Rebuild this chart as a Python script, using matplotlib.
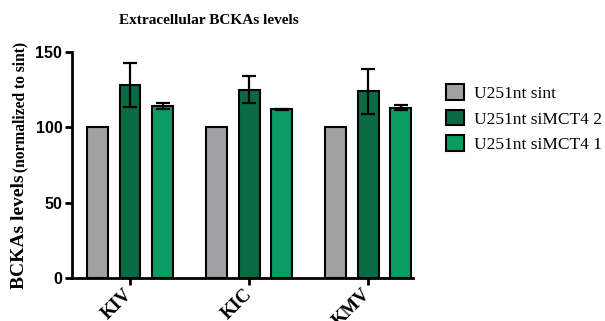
import matplotlib.pyplot as plt
import numpy as np

# data
categories = ["KIV", "KIC", "KMV"]
series = ["U251nt sint", "U251nt siMCT4 2", "U251nt siMCT4 1"]
sint = [100, 100, 100]
simct4_2 = [128, 125, 124]
simct4_1 = [114, 112, 113]
err_sint = [0, 0, 0]
err_simct4_2 = [14.5, 8.8, 15]
err_simct4_1 = [2, 0.4, 1.5]

colors = ["#a1a0a5", "#086b44", "#0c9a63"]
values = [sint, simct4_2, simct4_1]
errors = [err_sint, err_simct4_2, err_simct4_1]

fig = plt.figure(figsize=(6.05, 3.21), dpi=100)
ax = fig.add_axes([0.119, 0.134, 0.564, 0.704])

x = np.arange(len(categories))
width = 0.176
offset = 0.273
for i, (vals, errs, col, name) in enumerate(zip(values, errors, colors, series)):
    pos = x + (i - 1) * offset
    ax.bar(pos, vals, width, color=col, edgecolor="black", linewidth=1.5, label=name, zorder=2)
    e = [v if v > 0 else np.nan for v in errs]
    ax.errorbar(pos, vals, yerr=e, fmt="none", ecolor="black", elinewidth=1.6,
                capsize=5, capthick=1.6, zorder=3)

ax.set_xlim(-0.487, 2.378)
ax.set_ylim(0, 150)
ax.set_yticks([0, 50, 100, 150])
ax.set_xticks(x)
ax.set_xticklabels(categories, rotation=45, ha="right", va="center", rotation_mode="anchor",
                   family="Liberation Serif", fontweight="bold", fontsize=13.5)
for lab in ax.get_yticklabels():
    lab.set_family("Liberation Sans")
    lab.set_fontweight("bold")
    lab.set_fontsize(11.5)

for side in ["top", "right"]:
    ax.spines[side].set_visible(False)
for side in ["left", "bottom"]:
    ax.spines[side].set_linewidth(2)
ax.tick_params(axis="both", direction="out", length=5, width=2, pad=2)
ax.tick_params(axis="x", pad=5)

fig.text(209 / 605, 1 - 21 / 321, "Extracellular BCKAs levels", ha="center", va="center",
         family="Liberation Serif", fontweight="bold", fontsize=11)
fig.text(20 / 605, 1 - 289 / 321, "BCKAs levels", rotation=90, ha="center", va="bottom",
         family="Liberation Serif", fontweight="bold", fontsize=14)
fig.text(20 / 605, 1 - 172 / 321, "(normalized to sint)", rotation=90, ha="center", va="bottom",
         family="Liberation Serif", fontweight="bold", fontsize=11.2)

leg = ax.legend(loc="upper left", bbox_to_anchor=(0.738, 0.737), bbox_transform=fig.transFigure,
                frameon=False, prop={"family": "Liberation Serif", "size": 12.5},
                handlelength=1.0, handleheight=1.0, handletextpad=0.6, labelspacing=0.45,
                borderpad=0, borderaxespad=0)

fig.savefig("out.png", dpi=100)
